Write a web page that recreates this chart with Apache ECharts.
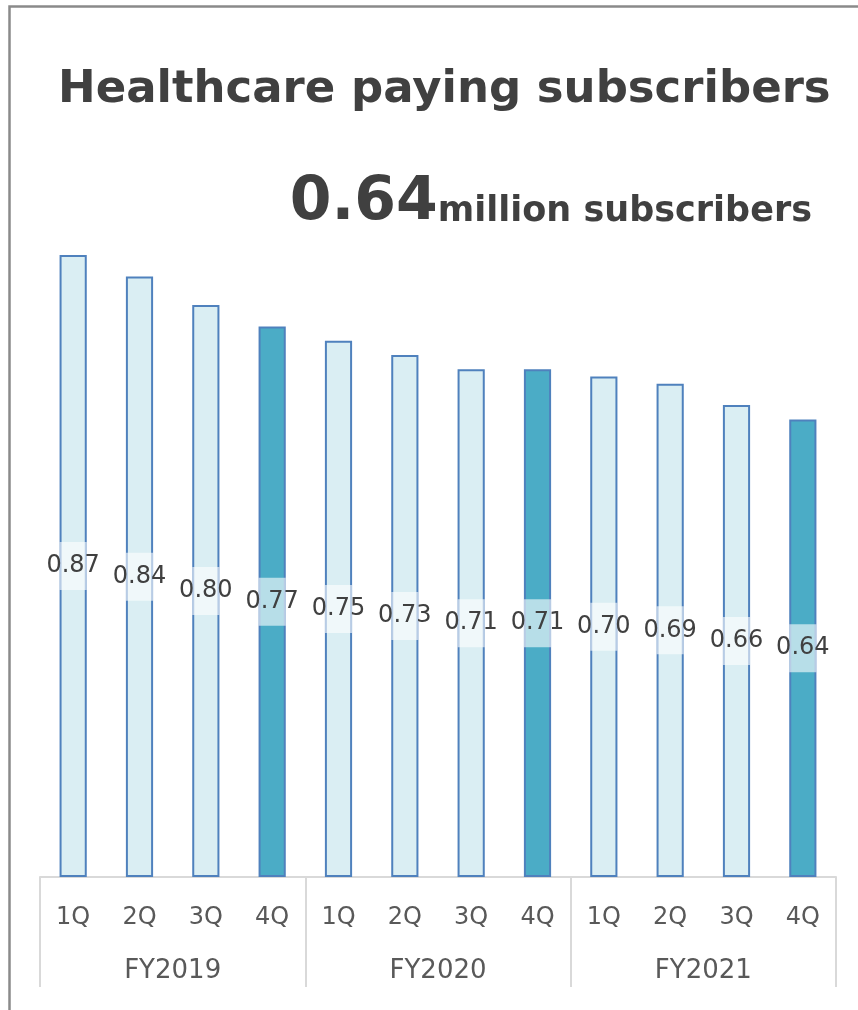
<!DOCTYPE html>
<html>
<head>
<meta charset="utf-8">
<script src="https://cdn.jsdelivr.net/npm/echarts@6/dist/echarts.min.js"></script>
<style>
  html, body { margin: 0; padding: 0; background: #fff; }
  #chart { width: 858px; height: 1010px; }
</style>
</head>
<body>
<div id="chart"></div>
<script>
// data
const quarters = ["1Q", "2Q", "3Q", "4Q", "1Q", "2Q", "3Q", "4Q", "1Q", "2Q", "3Q", "4Q"];
const years = ["FY2019", "FY2020", "FY2021"];
const subscribers = [0.87, 0.84, 0.80, 0.77, 0.75, 0.73, 0.71, 0.71, 0.70, 0.69, 0.66, 0.64];
const latestValue = "0.64";

const lightFill = "#daeef3";
const darkFill = "#4bacc6";
const borderColor = "#4f81bd";
const font = "DejaVu Sans, Verdana, sans-serif";
const barRatio = 0.41;

const chart = echarts.init(document.getElementById("chart"));

const barData = subscribers.map((v, i) => ({
  value: v,
  itemStyle: { color: quarters[i] === "4Q" ? darkFill : lightFill }
}));

const option = {
  animation: false,
  title: [
    {
      text: "Healthcare paying subscribers",
      left: 53,
      top: 63,
      textStyle: { fontFamily: font, fontWeight: "bold", fontSize: 45, color: "#404040" }
    },
    {
      text: "{big|" + latestValue + "}{small|million subscribers}",
      right: 41,
      top: 168,
      textStyle: {
        rich: {
          big: { fontFamily: font, fontWeight: "bold", fontSize: 60, color: "#404040" },
          small: { fontFamily: font, fontWeight: "bold", fontSize: 35, color: "#404040", padding: [18, 0, 0, 0] }
        }
      }
    }
  ],
  grid: { left: 40, right: 22, top: 162, bottom: 133, containLabel: false },
  xAxis: [
    {
      type: "category",
      data: quarters,
      position: "bottom",
      axisLine: { show: false },
      axisTick: { show: false },
      axisLabel: { margin: 29, fontFamily: font, fontSize: 24, color: "#595959", interval: 0 }
    },
    {
      type: "category",
      data: years,
      position: "bottom",
      axisLine: { show: true, lineStyle: { color: "#d9d9d9", width: 2 } },
      axisTick: { show: true, length: 110, lineStyle: { color: "#d9d9d9", width: 2 } },
      axisLabel: { margin: 81, fontFamily: font, fontSize: 26, color: "#595959" }
    }
  ],
  yAxis: {
    type: "value",
    min: 0,
    max: 1,
    show: false,
    splitLine: { show: false }
  },
  series: [
    {
      type: "bar",
      data: barData,
      xAxisIndex: 0,
      barWidth: barRatio * 100 + "%",
      itemStyle: { borderColor: borderColor, borderWidth: 2 }
    },
    {
      // label boxes in the middle of each bar
      type: "custom",
      xAxisIndex: 0,
      data: subscribers.map((v, i) => [i, v]),
      z: 5,
      renderItem: function (params, api) {
        const top = api.coord([api.value(0), api.value(1)]);
        const bot = api.coord([api.value(0), 0]);
        const mid = (top[1] + bot[1]) / 2;
        const w = api.size([1, 0])[0] * barRatio;
        return {
          type: "group",
          children: [
            {
              type: "rect",
              shape: { x: top[0] - w / 2, y: mid - 24, width: w, height: 48 },
              style: { fill: "rgba(255,255,255,0.6)" }
            },
            {
              type: "text",
              style: {
                text: api.value(1).toFixed(2),
                x: top[0],
                y: mid,
                align: "center",
                verticalAlign: "middle",
                font: "24px " + font,
                fill: "#404040"
              }
            }
          ]
        };
      }
    }
  ],
  graphic: [
    {
      type: "polyline",
      shape: { points: [[9.5, 1010], [9.5, 6.5], [858, 6.5]] },
      style: { stroke: "#8a8a8a", lineWidth: 2.5, fill: null }
    }
  ]
};

chart.setOption(option);
</script>
</body>
</html>
